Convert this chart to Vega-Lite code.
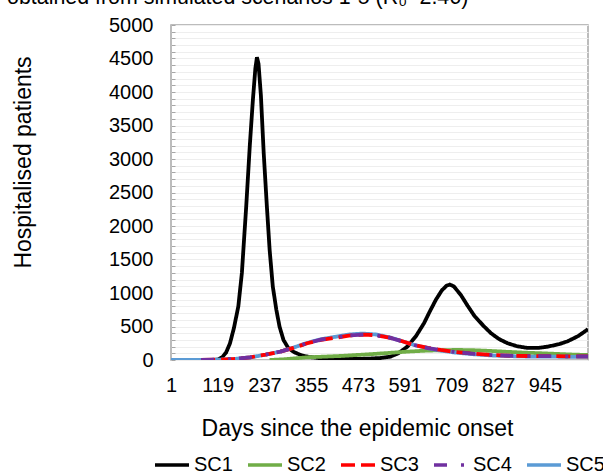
{
  "$schema": "https://vega.github.io/schema/vega-lite/v6.json",
  "autosize": {"type": "none"},
  "width": 417,
  "height": 335,
  "padding": {"left": 171, "top": 25, "right": 15, "bottom": 114},
  "background": "white",
  "title": {
    "text": "obtained from simulated scenarios 1-5 (R₀=2.46)",
    "anchor": "start",
    "frame": "group",
    "dx": -164,
    "dy": 10,
    "offset": 0,
    "baseline": "alphabetic",
    "font": "Liberation Sans",
    "fontSize": 21.4,
    "fontWeight": "normal",
    "color": "#000000"
  },
  "config": {
    "view": {"stroke": "#a6a6a6", "strokeWidth": 1.5},
    "font": "Liberation Sans"
  },
  "data": {
    "values": [
      {"series": "SC1", "day": 110, "value": 0},
      {"series": "SC1", "day": 120, "value": 10},
      {"series": "SC1", "day": 130, "value": 40},
      {"series": "SC1", "day": 140, "value": 110},
      {"series": "SC1", "day": 150, "value": 250},
      {"series": "SC1", "day": 160, "value": 480},
      {"series": "SC1", "day": 171, "value": 800},
      {"series": "SC1", "day": 180, "value": 1300},
      {"series": "SC1", "day": 191, "value": 2300},
      {"series": "SC1", "day": 200, "value": 3200},
      {"series": "SC1", "day": 208, "value": 3900},
      {"series": "SC1", "day": 214, "value": 4350},
      {"series": "SC1", "day": 218, "value": 4520},
      {"series": "SC1", "day": 222, "value": 4420},
      {"series": "SC1", "day": 228, "value": 3950},
      {"series": "SC1", "day": 235, "value": 3100},
      {"series": "SC1", "day": 243, "value": 2300},
      {"series": "SC1", "day": 250, "value": 1650},
      {"series": "SC1", "day": 258, "value": 1100},
      {"series": "SC1", "day": 267, "value": 750},
      {"series": "SC1", "day": 275, "value": 500},
      {"series": "SC1", "day": 285, "value": 300},
      {"series": "SC1", "day": 297, "value": 180},
      {"series": "SC1", "day": 311, "value": 120},
      {"series": "SC1", "day": 330, "value": 70},
      {"series": "SC1", "day": 350, "value": 45},
      {"series": "SC1", "day": 380, "value": 25},
      {"series": "SC1", "day": 420, "value": 15},
      {"series": "SC1", "day": 460, "value": 15},
      {"series": "SC1", "day": 500, "value": 20},
      {"series": "SC1", "day": 530, "value": 30},
      {"series": "SC1", "day": 555, "value": 50},
      {"series": "SC1", "day": 575, "value": 100},
      {"series": "SC1", "day": 598, "value": 200},
      {"series": "SC1", "day": 620, "value": 360},
      {"series": "SC1", "day": 640, "value": 550},
      {"series": "SC1", "day": 655, "value": 730},
      {"series": "SC1", "day": 670, "value": 900},
      {"series": "SC1", "day": 685, "value": 1040},
      {"series": "SC1", "day": 697, "value": 1110},
      {"series": "SC1", "day": 705, "value": 1125},
      {"series": "SC1", "day": 715, "value": 1100},
      {"series": "SC1", "day": 733, "value": 970},
      {"series": "SC1", "day": 750, "value": 810},
      {"series": "SC1", "day": 767, "value": 660},
      {"series": "SC1", "day": 790, "value": 510},
      {"series": "SC1", "day": 809, "value": 400},
      {"series": "SC1", "day": 830, "value": 310},
      {"series": "SC1", "day": 851, "value": 250},
      {"series": "SC1", "day": 875, "value": 205},
      {"series": "SC1", "day": 902, "value": 180},
      {"series": "SC1", "day": 930, "value": 182},
      {"series": "SC1", "day": 953, "value": 200},
      {"series": "SC1", "day": 980, "value": 235},
      {"series": "SC1", "day": 1003, "value": 280},
      {"series": "SC1", "day": 1030, "value": 360},
      {"series": "SC1", "day": 1054, "value": 460},

      {"series": "SC2", "day": 250, "value": 0},
      {"series": "SC2", "day": 285, "value": 10},
      {"series": "SC2", "day": 345, "value": 40},
      {"series": "SC2", "day": 429, "value": 60},
      {"series": "SC2", "day": 513, "value": 90},
      {"series": "SC2", "day": 598, "value": 125},
      {"series": "SC2", "day": 648, "value": 140},
      {"series": "SC2", "day": 700, "value": 148},
      {"series": "SC2", "day": 724, "value": 150},
      {"series": "SC2", "day": 760, "value": 147},
      {"series": "SC2", "day": 809, "value": 135},
      {"series": "SC2", "day": 850, "value": 122},
      {"series": "SC2", "day": 893, "value": 110},
      {"series": "SC2", "day": 940, "value": 100},
      {"series": "SC2", "day": 978, "value": 90},
      {"series": "SC2", "day": 1020, "value": 80},
      {"series": "SC2", "day": 1054, "value": 75},

      {"series": "SC5", "day": 1, "value": 0},
      {"series": "SC5", "day": 77, "value": 0},
      {"series": "SC5", "day": 120, "value": 5},
      {"series": "SC5", "day": 160, "value": 15},
      {"series": "SC5", "day": 201, "value": 40},
      {"series": "SC5", "day": 240, "value": 80},
      {"series": "SC5", "day": 277, "value": 125},
      {"series": "SC5", "day": 310, "value": 185},
      {"series": "SC5", "day": 345, "value": 255},
      {"series": "SC5", "day": 380, "value": 310},
      {"series": "SC5", "day": 420, "value": 350},
      {"series": "SC5", "day": 450, "value": 380},
      {"series": "SC5", "day": 485, "value": 395},
      {"series": "SC5", "day": 520, "value": 380},
      {"series": "SC5", "day": 555, "value": 335},
      {"series": "SC5", "day": 585, "value": 280},
      {"series": "SC5", "day": 614, "value": 225},
      {"series": "SC5", "day": 650, "value": 175},
      {"series": "SC5", "day": 682, "value": 140},
      {"series": "SC5", "day": 720, "value": 110},
      {"series": "SC5", "day": 767, "value": 85},
      {"series": "SC5", "day": 810, "value": 68},
      {"series": "SC5", "day": 851, "value": 58},
      {"series": "SC5", "day": 900, "value": 52},
      {"series": "SC5", "day": 950, "value": 50},
      {"series": "SC5", "day": 1000, "value": 48},
      {"series": "SC5", "day": 1054, "value": 48},

      {"series": "SC3", "day": 77, "value": 0},
      {"series": "SC3", "day": 120, "value": 5},
      {"series": "SC3", "day": 160, "value": 15},
      {"series": "SC3", "day": 201, "value": 40},
      {"series": "SC3", "day": 240, "value": 80},
      {"series": "SC3", "day": 277, "value": 125},
      {"series": "SC3", "day": 310, "value": 180},
      {"series": "SC3", "day": 345, "value": 250},
      {"series": "SC3", "day": 380, "value": 300},
      {"series": "SC3", "day": 420, "value": 335},
      {"series": "SC3", "day": 450, "value": 365},
      {"series": "SC3", "day": 488, "value": 380},
      {"series": "SC3", "day": 520, "value": 370},
      {"series": "SC3", "day": 555, "value": 330},
      {"series": "SC3", "day": 585, "value": 280},
      {"series": "SC3", "day": 614, "value": 225},
      {"series": "SC3", "day": 650, "value": 180},
      {"series": "SC3", "day": 682, "value": 150},
      {"series": "SC3", "day": 720, "value": 120},
      {"series": "SC3", "day": 767, "value": 95},
      {"series": "SC3", "day": 810, "value": 75},
      {"series": "SC3", "day": 851, "value": 65},
      {"series": "SC3", "day": 900, "value": 60},
      {"series": "SC3", "day": 950, "value": 58},
      {"series": "SC3", "day": 1000, "value": 55},
      {"series": "SC3", "day": 1054, "value": 55},

      {"series": "SC4", "day": 77, "value": 0},
      {"series": "SC4", "day": 120, "value": 5},
      {"series": "SC4", "day": 160, "value": 15},
      {"series": "SC4", "day": 201, "value": 40},
      {"series": "SC4", "day": 240, "value": 80},
      {"series": "SC4", "day": 277, "value": 125},
      {"series": "SC4", "day": 310, "value": 182},
      {"series": "SC4", "day": 345, "value": 252},
      {"series": "SC4", "day": 380, "value": 305},
      {"series": "SC4", "day": 420, "value": 340},
      {"series": "SC4", "day": 450, "value": 368},
      {"series": "SC4", "day": 488, "value": 378},
      {"series": "SC4", "day": 520, "value": 368},
      {"series": "SC4", "day": 555, "value": 330},
      {"series": "SC4", "day": 585, "value": 280},
      {"series": "SC4", "day": 614, "value": 225},
      {"series": "SC4", "day": 650, "value": 178},
      {"series": "SC4", "day": 682, "value": 148},
      {"series": "SC4", "day": 720, "value": 118},
      {"series": "SC4", "day": 767, "value": 92},
      {"series": "SC4", "day": 810, "value": 74},
      {"series": "SC4", "day": 851, "value": 64},
      {"series": "SC4", "day": 900, "value": 59},
      {"series": "SC4", "day": 950, "value": 57},
      {"series": "SC4", "day": 1000, "value": 55},
      {"series": "SC4", "day": 1054, "value": 55}
    ]
  },
  "mark": {"type": "line", "strokeWidth": 3.8, "clip": true},
  "encoding": {
    "x": {
      "field": "day",
      "type": "quantitative",
      "scale": {"domain": [1, 1054], "nice": false, "zero": false},
      "axis": {
        "values": [1, 119, 237, 355, 473, 591, 709, 827, 945],
        "format": "d",
        "grid": false,
        "ticks": false,
        "tickSize": 0,
        "domain": false,
        "labelFontSize": 20,
        "labelColor": "#000000",
        "labelBaseline": "middle",
        "labelPadding": 25,
        "labelFlush": false,
        "title": "Days since the epidemic onset",
        "titleFontSize": 23,
        "titleFontWeight": "normal",
        "titleColor": "#000000",
        "titleX": 186,
        "titleY": 68,
        "titleBaseline": "middle"
      }
    },
    "y": {
      "field": "value",
      "type": "quantitative",
      "scale": {"domain": [0, 5000], "nice": false},
      "axis": {
        "values": [0,100,200,300,400,500,600,700,800,900,1000,1100,1200,1300,1400,1500,1600,1700,1800,1900,2000,2100,2200,2300,2400,2500,2600,2700,2800,2900,3000,3100,3200,3300,3400,3500,3600,3700,3800,3900,4000,4100,4200,4300,4400,4500,4600,4700,4800,4900,5000],
        "format": "d",
        "labelExpr": "datum.value % 500 === 0 ? datum.label : ''",
        "grid": true,
        "gridColor": "#eeeeee",
        "gridWidth": 1,
        "ticks": true,
        "tickSize": -4,
        "tickColor": "#a6a6a6",
        "domain": false,
        "labelFontSize": 20,
        "labelColor": "#000000",
        "labelPadding": 22,
        "labelFlush": false,
        "labelOverlap": false,
        "title": "Hospitalised patients",
        "titleFontSize": 23,
        "titleFontWeight": "normal",
        "titleColor": "#000000",
        "titleX": -148,
        "titleY": 137,
        "titleAngle": -90,
        "titleAlign": "center",
        "titleBaseline": "middle"
      }
    },
    "color": {
      "field": "series",
      "type": "nominal",
      "scale": {
        "domain": ["SC1", "SC2", "SC3", "SC4", "SC5"],
        "range": ["#000000", "#70ad47", "#ff0000", "#7030a0", "#5b9bd5"]
      },
      "legend": {
        "title": null,
        "orient": "none",
        "direction": "horizontal",
        "legendX": -18,
        "legendY": 421,
        "symbolType": "stroke",
        "symbolSize": 1156,
        "symbolStrokeWidth": 3.5,
        "labelFontSize": 20,
        "labelColor": "#000000",
        "labelOffset": 3,
        "columnPadding": 8,
        "labelLimit": 0
      }
    },
    "strokeDash": {
      "field": "series",
      "type": "nominal",
      "scale": {
        "domain": ["SC1", "SC2", "SC3", "SC4", "SC5"],
        "range": [[1, 0], [1, 0], [14, 6], [13, 14, 3, 8], [1, 0]]
      },
      "legend": {
        "title": null,
        "orient": "none",
        "direction": "horizontal",
        "legendX": -18,
        "legendY": 421,
        "symbolType": "stroke",
        "symbolSize": 1156,
        "symbolStrokeWidth": 3.5,
        "labelFontSize": 20,
        "labelColor": "#000000",
        "labelOffset": 3,
        "columnPadding": 8,
        "labelLimit": 0
      }
    }
  }
}
